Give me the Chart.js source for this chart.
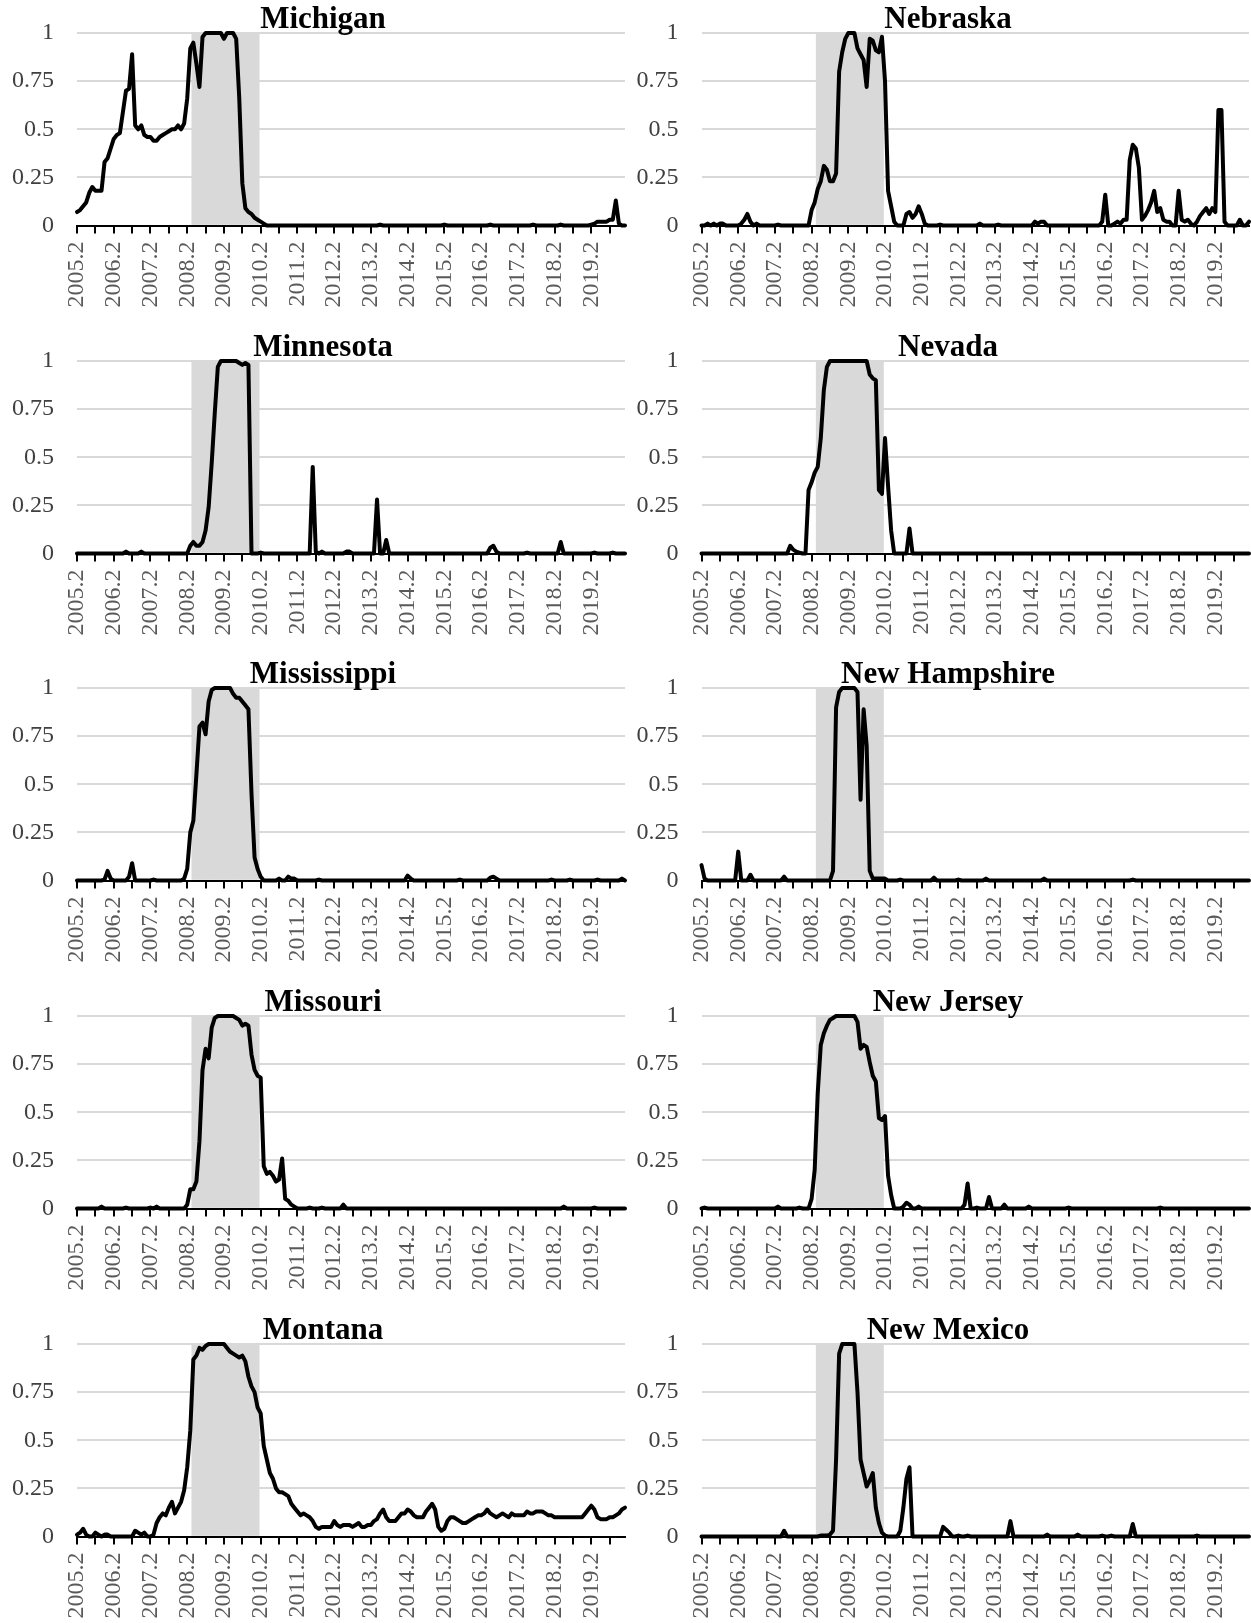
<!DOCTYPE html>
<html>
<head>
<meta charset="utf-8">
<script src="https://cdn.jsdelivr.net/npm/chart.js@4.4.1/dist/chart.umd.min.js"></script>
<style>
  body { margin: 0; background: #fff; width: 1251px; height: 1623px; overflow: hidden; position: relative; }
  canvas { position: absolute; }
</style>
</head>
<body>
<script>
// monthly categories 2005.2 .. 2020.1
let months = [];
for (let y = 2005; y <= 2020; y++) {
  for (let m = 1; m <= 12; m++) {
    if ((y === 2005 && m < 2) || (y === 2020 && m > 1)) continue;
    months.push(y + "." + m);
  }
}

let tickLabels = ["2005.2", "2006.2", "2007.2", "2008.2", "2009.2", "2010.2", "2011.2",
  "2012.2", "2013.2", "2014.2", "2015.2", "2016.2", "2017.2", "2018.2", "2019.2"];

// shaded months (grey band)
let shadeMonths = ["2008.4", "2008.5", "2008.6", "2008.7", "2008.8", "2008.9", "2008.10",
  "2008.11", "2008.12", "2009.1", "2009.2", "2009.3", "2009.4", "2009.5", "2009.6", "2009.7",
  "2009.8", "2009.9", "2009.10", "2009.11", "2009.12", "2010.1"];

// one row = 12 months, starting at Feb of each year
let michigan = [
  .07,.08,.10,.12,.17,.20,.18,.18,.18,.33,.35,.40,
  .45,.47,.48,.59,.70,.71,.89,.52,.50,.52,.47,.46,
  .46,.44,.44,.46,.47,.48,.49,.50,.50,.52,.50,.53,
  .66,.92,.95,.84,.72,.98,1,1,1,1,1,1,
  .97,1,1,1,.97,.66,.22,.09,.07,.06,.04,.03,
  .02,.01,0,0,0,0,0,0,0,0,0,0,
  0,0,0,0,0,0,0,0,0,0,0,0,
  0,0,0,0,0,0,0,0,0,0,0,0,
  0,0,0,.005,0,0,0,0,0,0,0,0,
  0,0,0,0,0,0,0,0,0,0,0,0,
  .005,0,0,0,0,0,0,0,0,0,0,0,
  0,0,0,.005,0,0,0,0,0,0,0,0,
  0,0,0,0,0,.005,0,0,0,0,0,0,
  0,0,.005,0,0,0,0,0,0,0,0,0,
  .005,.01,.02,.02,.02,.02,.03,.03,.13,.01,0,0
];
let minnesota = [
  0,0,0,0,0,0,0,0,0,0,0,0,
  0,0,0,0,.01,0,0,0,0,.01,0,0,
  0,0,0,0,0,0,0,0,0,0,0,0,
  0,.04,.06,.04,.04,.06,.12,.24,.47,.73,.97,1,
  1,1,1,1,1,.99,.98,.99,.98,0,0,0,
  .005,0,0,0,0,0,0,0,0,0,0,0,
  0,0,0,0,0,.45,.01,0,.01,0,0,0,
  0,0,0,0,.01,.01,0,0,0,0,0,0,
  0,0,.28,0,0,.07,0,0,0,0,0,0,
  0,0,0,0,0,0,0,0,0,0,0,0,
  0,0,0,0,0,0,0,0,0,0,0,0,
  0,0,0,.03,.04,.01,0,0,0,0,0,0,
  0,0,0,.005,0,0,0,0,0,0,0,0,
  0,0,.06,0,0,0,0,0,0,0,0,0,
  0,.005,0,0,0,0,0,.005,0,0,0,0
];
let mississippi = [
  0,0,0,0,0,0,0,0,0,.005,.05,.01,
  0,0,0,0,0,.02,.09,0,0,0,0,0,
  0,.005,0,0,0,0,0,0,0,0,0,.01,
  .06,.25,.31,.55,.80,.82,.76,.93,.99,1,1,1,
  1,1,1,.97,.95,.95,.93,.91,.89,.45,.12,.06,
  .02,0,0,0,0,0,.01,0,0,.02,.01,.01,
  0,0,0,0,0,0,0,.005,0,0,0,0,
  0,0,0,0,0,0,0,0,0,0,0,0,
  0,0,0,0,0,0,0,0,0,0,0,0,
  .025,.01,0,0,0,0,0,0,0,0,0,0,
  0,0,0,0,0,.005,0,0,0,0,0,0,
  0,0,0,.015,.02,.01,0,0,0,0,0,0,
  0,0,0,0,0,0,0,0,0,0,0,.005,
  0,0,0,0,0,.005,0,0,0,0,0,0,
  0,0,.005,0,0,0,0,0,0,0,.01,0
];
let missouri = [
  0,0,0,0,0,0,0,0,.01,0,0,0,
  0,0,0,0,.005,0,0,0,0,0,0,0,
  .005,0,.01,0,0,0,0,0,0,0,0,0,
  .02,.10,.10,.14,.35,.72,.83,.78,.94,.99,1,1,
  1,1,1,1,.99,.98,.95,.96,.95,.80,.72,.69,
  .68,.22,.18,.19,.17,.14,.15,.26,.05,.04,.02,.01,
  0,0,0,0,.005,0,0,0,.005,0,0,0,
  0,0,0,.02,0,0,0,0,0,0,0,0,
  0,0,0,0,0,0,0,0,0,0,0,0,
  0,0,0,0,0,0,0,0,0,0,0,0,
  0,0,0,0,0,0,0,0,0,0,0,0,
  0,0,0,0,0,0,0,0,0,0,0,0,
  0,0,0,0,0,0,0,0,0,0,0,0,
  0,0,0,.01,0,0,0,0,0,0,0,0,
  0,.005,0,0,0,0,0,0,0,0,0,0
];
let montana = [
  .01,.02,.04,.01,0,0,.02,.01,0,.01,.01,0,
  0,0,0,0,0,0,0,.03,.02,.01,.02,0,
  0,.01,.07,.10,.12,.11,.15,.18,.12,.15,.18,.24,
  .36,.55,.92,.94,.98,.97,.99,1,1,1,1,1,
  1,.98,.96,.95,.94,.93,.94,.91,.83,.78,.75,.67,
  .64,.47,.40,.33,.30,.25,.23,.23,.22,.21,.17,.15,
  .13,.11,.12,.11,.10,.08,.05,.04,.05,.05,.05,.05,
  .08,.06,.05,.06,.06,.06,.05,.06,.07,.05,.05,.06,
  .06,.08,.09,.12,.14,.10,.08,.08,.08,.10,.12,.12,
  .14,.13,.11,.10,.10,.10,.13,.15,.17,.14,.05,.03,
  .04,.08,.10,.10,.09,.08,.07,.07,.08,.09,.10,.11,
  .11,.12,.14,.12,.11,.10,.11,.12,.11,.10,.12,.11,
  .11,.11,.11,.13,.12,.12,.13,.13,.13,.12,.11,.11,
  .10,.10,.10,.10,.10,.10,.10,.10,.10,.10,.12,.14,
  .16,.14,.10,.09,.09,.09,.10,.10,.11,.12,.14,.15
];
let nebraska = [
  0,0,.01,0,.01,0,.01,.01,0,0,0,0,
  0,.01,.03,.06,.02,0,.01,0,0,0,0,0,
  0,.005,0,0,0,0,0,0,0,0,0,0,
  .08,.12,.19,.23,.31,.29,.23,.23,.27,.80,.90,.97,
  1,1,1,.92,.89,.86,.72,.97,.96,.91,.90,.98,
  .75,.18,.10,.02,0,0,0,.06,.07,.04,.06,.10,
  .06,.01,0,0,0,0,.005,0,0,0,0,0,
  0,0,0,0,0,0,0,.01,0,0,0,0,
  0,.005,0,0,0,0,0,0,0,0,0,0,
  0,.02,.01,.02,.02,0,0,0,0,0,0,0,
  0,0,0,0,0,0,0,0,0,0,0,.02,
  .16,0,0,.01,.02,.01,.03,.03,.34,.42,.40,.30,
  .03,.05,.08,.12,.18,.07,.09,.03,.02,.02,0,0,
  .18,.03,.02,.03,.01,0,.02,.05,.07,.09,.06,.09,
  .07,.60,.60,.02,0,0,0,0,.03,0,0,.02
];
let nevada = [
  0,0,0,0,0,0,0,0,0,0,0,0,
  0,0,0,0,0,0,0,0,0,0,0,0,
  0,0,0,0,0,.04,.02,.01,.005,0,0,.33,
  .37,.42,.45,.60,.85,.97,1,1,1,1,1,1,
  1,1,1,1,1,1,1,.93,.91,.90,.33,.31,
  .60,.35,.12,0,0,0,0,0,.13,0,0,0,
  0,0,0,0,0,0,0,0,0,0,0,0,
  0,0,0,0,0,0,0,0,0,0,0,0,
  0,0,0,0,0,0,0,0,0,0,0,0,
  0,0,0,0,0,0,0,0,0,0,0,0,
  0,0,0,0,0,0,0,0,0,0,0,0,
  0,0,0,0,0,0,0,0,0,0,0,0,
  0,0,0,0,0,0,0,0,0,0,0,0,
  0,0,0,0,0,0,0,0,0,0,0,0,
  0,0,0,0,0,0,0,0,0,0,0,0
];
let newHampshire = [
  .08,.01,0,0,0,0,0,0,0,0,0,0,
  .15,0,0,0,.03,0,0,0,0,0,0,0,
  0,0,0,.02,0,0,0,0,0,0,0,0,
  0,0,0,0,0,0,0,.05,.90,.98,1,1,
  1,1,1,.98,.42,.89,.70,.05,.01,.01,.01,.01,
  .01,0,0,0,0,.005,0,0,0,0,0,0,
  0,0,0,0,.015,0,0,0,0,0,0,0,
  .005,0,0,0,0,0,0,0,0,.01,0,0,
  0,0,0,0,0,0,0,0,0,0,0,0,
  0,0,0,0,.01,0,0,0,0,0,0,0,
  0,0,0,0,0,0,0,0,0,0,0,0,
  0,0,0,0,0,0,0,0,0,.005,0,0,
  0,0,0,0,0,0,0,0,0,0,0,0,
  0,0,0,0,0,0,0,0,0,0,0,0,
  0,0,0,0,0,0,0,0,0,0,0,0
];
let newJersey = [
  0,.005,0,0,0,0,0,0,0,0,0,0,
  0,0,0,0,0,0,0,0,0,0,0,0,
  0,.01,0,0,0,0,0,0,.005,0,0,0,
  .05,.20,.60,.85,.91,.95,.98,.99,1,1,1,1,
  1,1,1,.97,.83,.85,.84,.76,.69,.66,.47,.46,
  .48,.17,.07,0,0,0,.01,.03,.02,0,0,.01,
  0,0,0,0,0,0,0,0,0,0,0,0,
  0,0,.02,.13,0,0,.005,0,0,0,.06,0,
  0,0,0,.02,0,0,0,0,0,0,0,.01,
  0,0,0,0,0,0,0,0,0,0,0,0,
  .005,0,0,0,0,0,0,0,0,0,0,0,
  0,0,0,0,0,0,0,0,0,0,0,0,
  0,0,0,0,0,0,.005,0,0,0,0,0,
  0,0,0,0,0,0,0,0,0,0,0,0,
  0,0,0,0,0,0,0,0,0,0,0,0
];
let newMexico = [
  0,0,0,0,0,0,0,0,0,0,0,0,
  0,0,0,0,0,0,0,0,0,0,0,0,
  0,0,0,.03,0,0,0,0,0,0,0,0,
  0,0,0,.005,.005,.005,.01,.03,.40,.95,1,1,
  1,1,1,.75,.40,.33,.26,.29,.33,.15,.07,.02,
  .005,0,0,0,0,.03,.15,.30,.36,0,0,0,
  0,0,0,0,0,0,0,.05,.035,.02,0,0,
  .005,0,0,.005,0,0,0,0,0,0,0,0,
  0,0,0,0,0,.08,0,0,0,0,0,0,
  0,0,0,0,0,.01,0,0,0,0,0,0,
  0,0,0,.01,0,0,0,0,0,0,0,.005,
  0,0,.005,0,0,0,0,0,0,.065,0,0,
  0,0,0,0,0,0,0,0,0,0,0,0,
  0,0,0,0,0,0,.005,0,0,0,0,0,
  0,0,0,0,0,0,0,0,0,0,0,0
];

let panels = [
  { name: "Michigan", data: michigan, col: 0, row: 0 },
  { name: "Minnesota", data: minnesota, col: 0, row: 1 },
  { name: "Mississippi", data: mississippi, col: 0, row: 2 },
  { name: "Missouri", data: missouri, col: 0, row: 3 },
  { name: "Montana", data: montana, col: 0, row: 4 },
  { name: "Nebraska", data: nebraska, col: 1, row: 0 },
  { name: "Nevada", data: nevada, col: 1, row: 1 },
  { name: "New Hampshire", data: newHampshire, col: 1, row: 2 },
  { name: "New Jersey", data: newJersey, col: 1, row: 3 },
  { name: "New Mexico", data: newMexico, col: 1, row: 4 },
];

let shade = months.map((m) => (shadeMonths.includes(m) ? 1 : null));
let rowTops = [0, 328, 655, 983, 1311];
let serif = "'Liberation Serif', 'Times New Roman', serif";

// per column: canvas left, canvas width, y axis width, spacer width on the right
let cols = [
  { left: 0, width: 636, yWidth: 67, spacer: 11 },
  { left: 624, width: 638, yWidth: 67.5, spacer: 13 },
];

function drawPanel(p) {
  let c = cols[p.col];
  let cv = document.createElement("canvas");
  cv.width = c.width;
  cv.height = 328;
  cv.style.left = c.left + "px";
  cv.style.top = rowTops[p.row] + "px";
  document.body.appendChild(cv);

  new Chart(cv, {
    type: "line",
    data: {
      labels: months,
      datasets: [
        {
          type: "line",
          data: p.data,
          borderColor: "#000",
          borderWidth: 4,
          pointRadius: 0,
          tension: 0,
          clip: false,
          borderJoinStyle: "round",
          borderCapStyle: "round",
          order: 0,
        },
        {
          type: "bar",
          data: shade,
          backgroundColor: "#d9d9d9",
          borderWidth: 0,
          barPercentage: 1,
          categoryPercentage: 1,
          order: 1,
        },
      ],
    },
    options: {
      responsive: false,
      animation: false,
      events: [],
      layout: { padding: { left: 10, right: 0, top: 0, bottom: 0 } },
      plugins: {
        legend: { display: false },
        tooltip: { enabled: false },
        title: {
          display: true,
          text: p.name,
          color: "#000",
          font: { family: serif, size: 31, weight: "bold", lineHeight: 0.84 },
          padding: { top: 7, bottom: 0 },
        },
      },
      scales: {
        x: {
          offset: false,
          grid: {
            offset: false,
            drawOnChartArea: false,
            drawTicks: true,
            tickLength: 8,
            lineWidth: 2,
            color: (ctx) => (ctx.index % 6 === 0 ? "#000" : "rgba(0,0,0,0)"),
          },
          border: { display: true, color: "#000", width: 2 },
          ticks: {
            autoSkip: false,
            maxRotation: 90,
            minRotation: 90,
            padding: 8,
            color: "#595959",
            font: { family: serif, size: 24 },
            callback: (v, i) => (tickLabels.includes(months[i]) ? months[i] : ""),
          },
          afterFit: (s) => {
            s.height = 102.5;
            s.paddingLeft = 0;
            s.paddingRight = 0;
          },
        },
        y: {
          min: 0,
          max: 1,
          ticks: {
            stepSize: 0.25,
            padding: 23,
            color: "#404040",
            font: { family: serif, size: 24 },
            callback: (v) => String(v),
          },
          grid: { color: "#d9d9d9", lineWidth: 2, drawTicks: false },
          border: { display: false },
          afterFit: (s) => {
            s.width = c.yWidth;
            s.paddingTop = 0;
            s.paddingBottom = 0;
          },
        },
        // empty spacer on the right so the title sits where it does in the original
        spacer: {
          type: "linear",
          position: "right",
          grid: { display: false },
          ticks: { display: false },
          border: { display: false },
          afterFit: (s) => {
            s.width = c.spacer;
            s.paddingTop = 0;
            s.paddingBottom = 0;
          },
        },
      },
    },
  });
}

panels.forEach(drawPanel);
</script>
</body>
</html>
